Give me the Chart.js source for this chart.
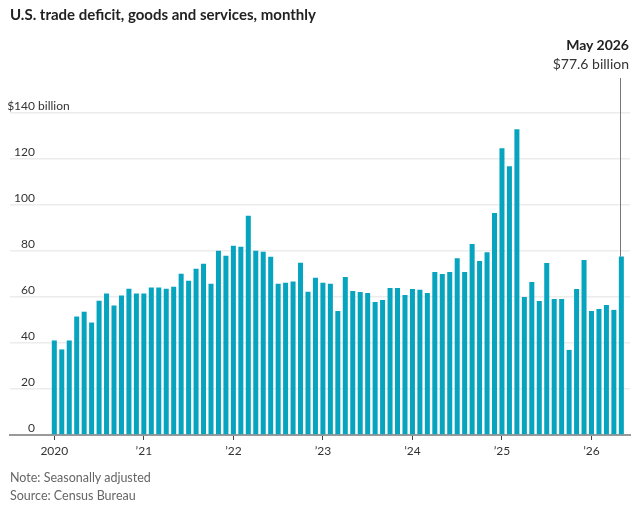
<!DOCTYPE html>
<html>
<head>
<meta charset="utf-8">
<script src="https://cdn.jsdelivr.net/npm/chart.js@4.4.0/dist/chart.umd.min.js"></script>
<style>
  html, body { margin: 0; padding: 0; background: #fff; }
  body { width: 642px; height: 529px; position: relative; overflow: hidden; font-family: Lato, "Noto Sans", sans-serif; }
  #wrap { position: absolute; left: 0; top: 0; width: 642px; height: 529px; }
  .title { position: absolute; left: 10px; top: 5px; font-size: 15px; font-weight: 700; color: #222; white-space: nowrap; }
  .note { position: absolute; left: 10px; font-size: 12.5px; color: #666; white-space: nowrap; }
  .ann { position: absolute; right: 13px; text-align: right; white-space: nowrap; color: #222; }
</style>
</head>
<body>
<div id="wrap"><canvas id="c" width="642" height="529"></canvas></div>
<div class="title">U.S. trade deficit, goods and services, monthly</div>
<div class="ann" style="top:36px;font-size:14px;font-weight:700;">May 2026</div>
<div class="ann" style="top:55px;font-size:14px;color:#333;">$77.6 billion</div>
<div class="note" style="top:470px;">Note: Seasonally adjusted</div>
<div class="note" style="top:488px;">Source: Census Bureau</div>
<script>
// ---- data ----
const years = [2020, 2021, 2022, 2023, 2024, 2025, 2026];
const monthNames = ["Jan","Feb","Mar","Apr","May","Jun","Jul","Aug","Sep","Oct","Nov","Dec"];
const deficit2020 = [41.1, 37.2, 41.1, 51.5, 53.6, 48.9, 58.4, 61.5, 56.3, 60.6, 63.6, 61.5];
const deficit2021 = [61.5, 64.1, 64.1, 63.6, 64.5, 70.1, 67.1, 72.3, 74.5, 65.8, 80.1, 77.9];
const deficit2022 = [82.3, 81.8, 95.3, 80.1, 79.7, 77.5, 65.8, 66.2, 66.7, 74.9, 62.3, 68.4];
const deficit2023 = [66.2, 65.8, 53.9, 68.7, 62.6, 62.2, 61.7, 57.8, 58.7, 63.9, 63.9, 60.9];
const deficit2024 = [63.5, 63.1, 61.7, 70.9, 70.0, 70.9, 76.9, 70.9, 83.0, 75.6, 79.5, 96.5];
const deficit2025 = [124.7, 116.8, 132.9, 60.0, 66.5, 58.3, 74.8, 59.1, 59.1, 37.0, 63.5, 76.1];
const deficit2026 = [53.9, 54.8, 56.5, 54.4, 77.6];
const xTickLabels = ["2020", "\u201921", "\u201922", "\u201923", "\u201924", "\u201925", "\u201926"];
const yTickValues = [0, 20, 40, 60, 80, 100, 120, 140];
const yTickLabels = ["0", "20", "40", "60", "80", "100", "120", "$140"];
const yUnit = " billion";

const values = [].concat(deficit2020, deficit2021, deficit2022, deficit2023, deficit2024, deficit2025, deficit2026);
const categories = values.map((v, i) => monthNames[i % 12] + " " + years[Math.floor(i / 12)]);
const points = values.map((v, i) => ({ x: i, y: v }));
const yearTickIndex = years.map((y, i) => i * 12);

const FONT = "Lato, 'Noto Sans', sans-serif";

const overlay = {
  id: 'overlay',
  afterDraw(chart) {
    const ctx = chart.ctx;
    const ys = chart.scales.y, xs = chart.scales.x;
    ctx.save();
    ctx.font = "12px " + FONT;
    ctx.fillStyle = "#333";
    ctx.textBaseline = "alphabetic";
    yTickValues.forEach((v, i) => {
      const py = ys.getPixelForValue(v) - 3.5;
      ctx.textAlign = "right";
      ctx.fillText(yTickLabels[i], 35, py);
      if (i === yTickValues.length - 1) {
        ctx.textAlign = "left";
        ctx.fillText(yUnit, 35, py);
      }
    });
    // annotation line for last bar
    const last = values.length - 1;
    const px = Math.round(xs.getPixelForValue(last)) - 0.5;
    ctx.strokeStyle = "#777";
    ctx.lineWidth = 1;
    ctx.beginPath();
    ctx.moveTo(px, 78);
    ctx.lineTo(px, ys.getPixelForValue(values[last]));
    ctx.stroke();
    ctx.restore();
  }
};

new Chart(document.getElementById('c'), {
  type: 'bar',
  data: {
    labels: categories,
    datasets: [{
      data: points,
      backgroundColor: '#06a4bf',
      borderWidth: 0,
      barPercentage: 0.84,
      categoryPercentage: 0.8
    }]
  },
  options: {
    responsive: false,
    animation: false,
    devicePixelRatio: 1,
    layout: { padding: { left: 10, right: 12, top: 113, bottom: 70 } },
    plugins: { legend: { display: false }, tooltip: { enabled: false }, title: { display: false } },
    scales: {
      x: {
        type: 'linear',
        min: -5.94,
        max: 77.16,
        offset: false,
        afterBuildTicks: s => { s.ticks = yearTickIndex.map(v => ({ value: v })); },
        afterFit: s => { s.height = 24; },
        ticks: {
          autoSkip: false,
          maxRotation: 0,
          padding: 4,
          color: '#333',
          font: { family: FONT, size: 12 },
          callback: (v) => { const k = yearTickIndex.indexOf(v); return k >= 0 ? xTickLabels[k] : ''; }
        },
        grid: { offset: false, drawOnChartArea: false, drawTicks: true, tickLength: 5, color: '#444', lineWidth: 1 },
        border: { display: true, color: '#999', width: 2 }
      },
      y: {
        min: 0,
        max: 140,
        afterBuildTicks: s => { s.ticks = yTickValues.map(v => ({ value: v })); },
        afterFit: s => { s.width = 0; },
        ticks: { display: false },
        grid: { color: '#ececec', lineWidth: 1.5, drawTicks: false },
        border: { display: false }
      }
    }
  },
  plugins: [overlay]
});
</script>
</body>
</html>
